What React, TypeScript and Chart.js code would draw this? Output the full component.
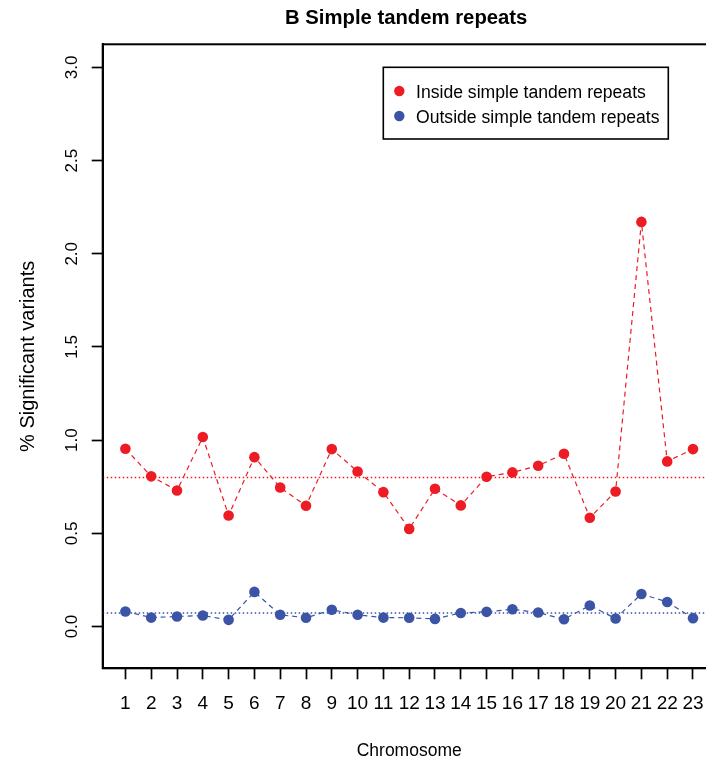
import { useEffect, useRef } from "react";
import { Chart, registerables } from "chart.js";

Chart.register(...registerables);

const CHROMOSOMES = [1, 2, 3, 4, 5, 6, 7, 8, 9, 10, 11, 12, 13, 14, 15, 16, 17, 18, 19, 20, 21, 22, 23];
const INSIDE = [0.954, 0.806, 0.73, 1.017, 0.596, 0.909, 0.746, 0.648, 0.952, 0.832, 0.721, 0.524, 0.739, 0.65, 0.804, 0.827, 0.863, 0.927, 0.584, 0.725, 2.171, 0.886, 0.952];
const OUTSIDE = [0.081, 0.048, 0.054, 0.059, 0.036, 0.186, 0.063, 0.047, 0.09, 0.063, 0.048, 0.047, 0.041, 0.073, 0.079, 0.093, 0.075, 0.039, 0.113, 0.043, 0.175, 0.132, 0.045];
const INSIDE_MEAN = 0.8;
const OUTSIDE_MEAN = 0.073;
const Y_TICKS = [0, 0.5, 1, 1.5, 2, 2.5, 3];
const SERIES_LABELS = ["Inside simple tandem repeats", "Outside simple tandem repeats"];
const TITLE = "B Simple tandem repeats";
const X_TITLE = "Chromosome";
const Y_TITLE = "% Significant variants";

const RED = "#ED1C24";
const BLUE = "#3B54A5";
const FONT = "'Liberation Sans', Arial, sans-serif";

const decorPlugin = {
  id: "decor",
  beforeDatasetsDraw(chart: any) {
    const { ctx, chartArea, scales } = chart;
    const y = scales.y;
    ctx.save();
    ctx.lineWidth = 1.5;
    ctx.setLineDash([1.5, 2.5]);
    [
      [INSIDE_MEAN, RED],
      [OUTSIDE_MEAN, BLUE],
    ].forEach(([v, c]: any) => {
      const py = y.getPixelForValue(v);
      ctx.strokeStyle = c;
      ctx.beginPath();
      ctx.moveTo(chartArea.left, py);
      ctx.lineTo(chartArea.right, py);
      ctx.stroke();
    });
    ctx.restore();
  },
  afterDraw(chart: any) {
    const { ctx, chartArea } = chart;
    ctx.save();
    // box
    ctx.strokeStyle = "#000";
    ctx.lineWidth = 2;
    ctx.strokeRect(chartArea.left, chartArea.top, chartArea.right - chartArea.left, chartArea.bottom - chartArea.top);
    // title
    ctx.fillStyle = "#000";
    ctx.font = `bold 20.3px ${FONT}`;
    ctx.textAlign = "center";
    ctx.textBaseline = "alphabetic";
    ctx.fillText(TITLE, (chartArea.left + chartArea.right) / 2 - 3, 24);
    // legend
    const lx = 383.3, ly = 67.3, lw = 285, lh = 71.7;
    ctx.fillStyle = "#fff";
    ctx.fillRect(lx, ly, lw, lh);
    ctx.lineWidth = 1.6;
    ctx.strokeStyle = "#000";
    ctx.strokeRect(lx, ly, lw, lh);
    const colors = [RED, BLUE];
    SERIES_LABELS.forEach((lab, i) => {
      const cy = 91 + i * 25;
      ctx.fillStyle = colors[i];
      ctx.beginPath();
      ctx.arc(399.3, cy, 5.2, 0, Math.PI * 2);
      ctx.fill();
      ctx.fillStyle = "#000";
      ctx.font = `17.6px ${FONT}`;
      ctx.textAlign = "left";
      ctx.textBaseline = "alphabetic";
      ctx.fillText(lab, 416, cy + 7.3);
    });
    ctx.restore();
  },
};

export default function App() {
  const ref = useRef<HTMLCanvasElement>(null);
  useEffect(() => {
    const canvas = ref.current!;
    const chart = new Chart(canvas, {
      type: "line",
      data: {
        datasets: [
          {
            label: SERIES_LABELS[0],
            data: CHROMOSOMES.map((c, i) => ({ x: c, y: INSIDE[i] })),
            borderColor: RED,
            backgroundColor: RED,
            borderWidth: 1.2,
            borderDash: [5, 4],
            pointRadius: 5.3,
            pointBorderWidth: 0,
            pointBackgroundColor: RED,
            tension: 0,
          },
          {
            label: SERIES_LABELS[1],
            data: CHROMOSOMES.map((c, i) => ({ x: c, y: OUTSIDE[i] })),
            borderColor: BLUE,
            backgroundColor: BLUE,
            borderWidth: 1.2,
            borderDash: [5, 4],
            pointRadius: 5.3,
            pointBorderWidth: 0,
            pointBackgroundColor: BLUE,
            tension: 0,
          },
        ],
      },
      options: {
        responsive: false,
        animation: false,
        events: [],
        layout: { padding: { top: 44.3, right: 14.3, left: 0, bottom: 0 } },
        plugins: { legend: { display: false }, tooltip: { enabled: false }, title: { display: false } },
        scales: {
          x: {
            type: "linear",
            min: 0.12,
            max: 23.88,
            afterBuildTicks: (s: any) => {
              s.ticks = CHROMOSOMES.map((v) => ({ value: v }));
            },
            afterFit: (s: any) => {
              s.height = 97.7;
            },
            border: { display: true, color: "#000", width: 2 },
            grid: { drawOnChartArea: false, drawTicks: true, tickLength: 11, tickColor: "#000", tickWidth: 1.7, color: "#000" },
            ticks: {
              autoSkip: false,
              maxRotation: 0,
              minRotation: 0,
              padding: 13,
              color: "#000",
              font: { family: FONT, size: 19 },
              callback: (v: any) => String(v),
            },
            title: {
              display: true,
              text: X_TITLE,
              color: "#000",
              font: { family: FONT, size: 17.5 },
              padding: { top: 0, bottom: 4 },
            },
          },
          y: {
            type: "linear",
            min: -0.224,
            max: 3.124,
            afterBuildTicks: (s: any) => {
              s.ticks = Y_TICKS.map((v) => ({ value: v }));
            },
            afterFit: (s: any) => {
              s.width = 102.7;
            },
            border: { display: true, color: "#000", width: 2 },
            grid: { drawOnChartArea: false, drawTicks: true, tickLength: 11, tickColor: "#000", tickWidth: 1.7, color: "#000" },
            ticks: {
              minRotation: 90,
              maxRotation: 90,
              crossAlign: "center",
              padding: 8,
              color: "#000",
              font: { family: FONT, size: 17 },
              callback: (v: any) => Number(v).toFixed(1),
            },
            title: {
              display: true,
              text: Y_TITLE,
              color: "#000",
              font: { family: FONT, size: 20 },
              padding: { top: 16, bottom: 0 },
            },
          },
        },
      },
      plugins: [decorPlugin],
    } as any);
    return () => chart.destroy();
  }, []);
  return (
    <div style={{ position: "fixed", left: 0, top: 0, width: 706, height: 766, overflow: "hidden", background: "#fff" }}>
      <canvas ref={ref} width={730} height={766} style={{ display: "block", width: 730, height: 766 }} />
    </div>
  );
}
